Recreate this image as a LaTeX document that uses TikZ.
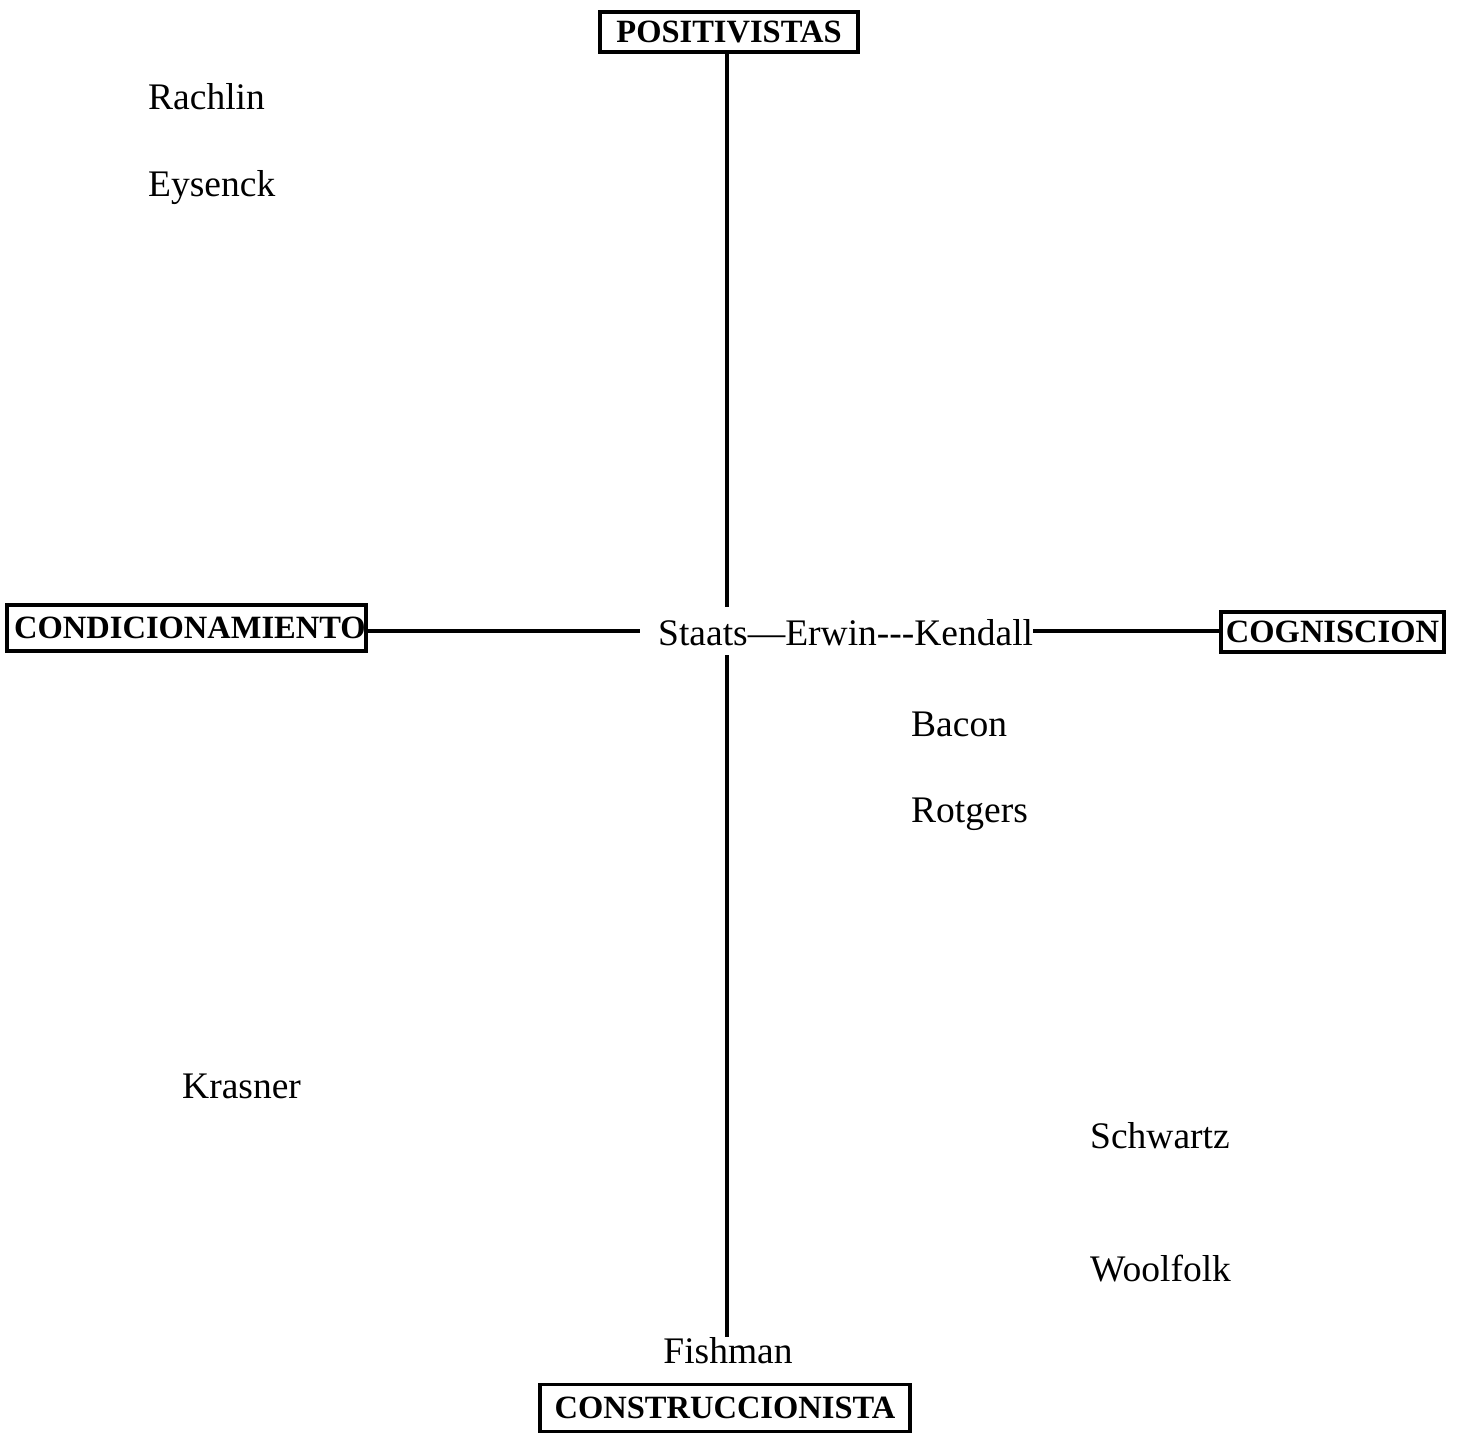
\documentclass[tikz,border=0pt]{standalone}
\usepackage{fontspec}
\setmainfont{Liberation Serif}
\begin{document}
\begin{tikzpicture}[x=1pt,y=-1pt,
  labelbox/.style={draw,line width=3.5pt,inner sep=0pt,font=\fontsize{32.5}{36}\selectfont\bfseries},
  person/.style={anchor=west,inner sep=0pt,font=\fontsize{37.5}{44}\selectfont},
  axis/.style={line width=4pt}]
\useasboundingbox (0,0) rectangle (1457,1435);
\node[labelbox,minimum width=258pt,minimum height=40pt] (pos) at (729,32) {POSITIVISTAS};
\node[labelbox,minimum width=355pt,minimum height=46pt] (cond) at (186.5,628) {\hspace*{7pt}CONDICIONAMIENTO};
\node[labelbox,minimum width=223pt,minimum height=40pt] (cog) at (1332.5,632) {COGNISCION};
\node[labelbox,minimum width=370pt,minimum height=47pt] (cons) at (725,1408) {CONSTRUCCIONISTA};

\node[person] (rach) at (148,97) {Rachlin};
\node[person] (eys) at (148,188) {Eysenck};
\node[person] (staats) at (658,633) {Staats—Erwin-{}-{}-Kendall};
\node[person] (bacon) at (911,724) {Bacon};
\node[person] (rot) at (911,814) {Rotgers};
\node[person] (kras) at (182,1086) {Krasner};
\node[person] (schw) at (1090,1136) {Schwartz};
\node[person] (wool) at (1090,1269) {Woolfolk};
\node[anchor=north,inner sep=0pt,font=\fontsize{37.5}{44}\selectfont] (fish) at (728,1337) {Fishman};

\coordinate (vtop) at (727,607);
\coordinate (vbot) at (727,655);
\coordinate (hleft) at (640,631);

\draw[axis] (pos.south -| vtop) -- (vtop);
\draw[axis] (vbot) -- (fish.north -| vbot);
\draw[axis] (cond.east |- hleft) -- (hleft);
\draw[axis] (staats.east |- hleft) -- (cog.west |- hleft);
\end{tikzpicture}
\end{document}
